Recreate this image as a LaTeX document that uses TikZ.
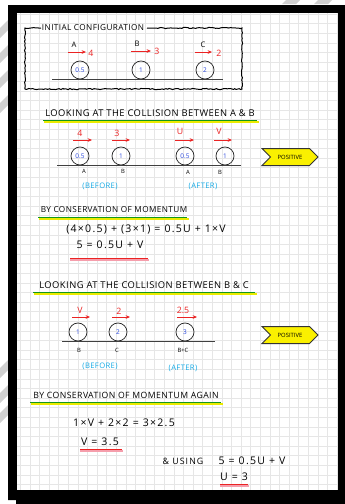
\documentclass[tikz,border=0pt]{standalone}
\usepackage{fontspec}
\setmainfont{Open Sans}
\newfontfamily\headfont[LetterSpace=5]{Open Sans}
\newfontfamily\eqnfont[LetterSpace=12]{Open Sans}
\usetikzlibrary{arrows.meta,positioning,shapes.symbols,decorations.pathmorphing,calc}
\definecolor{inkred}{RGB}{235,35,35}
\definecolor{inkblue}{RGB}{40,70,220}
\definecolor{inkcyan}{RGB}{20,170,230}
\definecolor{hlgreen}{RGB}{20,150,30}
\definecolor{hlyellow}{RGB}{235,235,0}
\definecolor{pinkred}{RGB}{235,60,90}
\definecolor{gridgray}{RGB}{230,230,230}
\definecolor{smudge}{RGB}{208,208,208}
\definecolor{posyellow}{RGB}{250,240,0}

\begin{document}
\begin{tikzpicture}[x=0.3mm,y=-0.3mm,
  ball/.style={circle, draw=black!85, line width=0.22mm, minimum size=5.4mm, inner sep=0pt, font=\fontsize{5.5}{6}\selectfont, text=inkblue},
  spd/.style={-{Stealth[length=1.3mm,width=1.1mm]}, inkred, line width=0.3mm},
  speed/.style={font=\fontsize{7.5}{8}\selectfont, text=inkred, inner sep=0pt},
  letter/.style={font=\fontsize{6.5}{7}\selectfont, inner sep=0pt},
  under/.style={font=\fontsize{5}{6}\selectfont, inner sep=0pt},
  stage/.style={font=\headfont\fontsize{6.5}{7}\selectfont, text=inkcyan, inner sep=0pt},
  heading/.style={font=\headfont\fontsize{8}{9}\selectfont, inner sep=0pt},
  eqn/.style={font=\eqnfont\fontsize{9}{10}\selectfont, inner sep=0pt},
  ground/.style={black!75, line width=0.25mm},
  posbox/.style={signal, signal from=west, signal to=east, draw=black!80, fill=posyellow, line width=0.3mm, minimum width=16.8mm, minimum height=5.1mm, inner sep=0pt, font=\fontsize{5}{6}\selectfont}]

  % Photo background, frame and grid paper
  \useasboundingbox (0,0) rectangle (345,504);
  \fill[white] (0,0) rectangle (345,504);
  \foreach \y in {20,45,70,95,360,385,405}
    \fill[smudge] (0,\y+8) -- (8,\y) -- (8,\y+10) -- (0,\y+18) -- cycle;
  \foreach \x in {282,314}
    \fill[smudge] (\x,4) -- (\x+4,0) -- (\x+18,0) -- (\x+14,4) -- cycle;
  \fill[black] (8,5) -- (345,5) -- (345,504) -- (16,504) -- (16,500) -- (8,500) -- cycle;
  \fill[white] (17,13) rectangle (338,490);
  \begin{scope}
    \clip (17,13) rectangle (338,490);
    \foreach \i in {0,...,33}
      \draw[gridgray, line width=0.12mm] (20.1+\i*9.6,13) -- (20.1+\i*9.6,490);
    \foreach \j in {0,...,49}
      \draw[gridgray, line width=0.12mm] (17,14+\j*9.6) -- (338,14+\j*9.6);
  \end{scope}

  % Initial configuration panel
  \pgfmathsetseed{11}
  \draw[black, line width=0.3mm, decorate, decoration={random steps, segment length=1.6pt, amplitude=0.5pt}]
    (41,28) -- (25,28) -- (25,89) -- (242,89) -- (242,28) -- (147,28);
  \node[font=\headfont\fontsize{7}{8}\selectfont, inner sep=0pt] (title) at (93,28) {INITIAL CONFIGURATION};

  \node[ball] (a1) at (80,70) {0.5};
  \node[ball] (b1) at (141,70) {1};
  \node[ball] (c1) at (205,70) {2};
  \draw[ground] (52,79) -- (223,79);

  \node[letter] (la1) at (74,45) {A};
  \node[letter] (lb1) at (137,44) {B};
  \node[letter] (lc1) at (203,45) {C};
  \draw[spd] ([shift={(-12,-18)}]a1.center) -- +(18,0);
  \draw[spd] ([shift={(-10,-19)}]b1.center) -- +(20,0);
  \draw[spd] ([shift={(-10,-18)}]c1.center) -- +(17,0);
  \node[speed] (va1) at (91,53) {4};
  \node[speed] (vb1) at (157,51) {3};
  \node[speed] (vc1) at (219,53) {2};

  % Collision between A and B
  \node[heading] (head1) at (150,113) {LOOKING AT THE COLLISION BETWEEN A \& B};
  \draw[hlyellow, line width=0.6mm] (44,122) -- (259,122);
  \draw[hlgreen, line width=0.55mm] (43,120.5) -- (257,120.5);

  \node[ball] (a2) at (80,156) {0.5};
  \node[ball] (b2) at (121,156) {1};
  \node[ball] (a3) at (185,156) {0.5};
  \node[ball] (b3) at (225,156) {1};
  \draw[ground] (57,165) -- (241,165);

  \draw[spd] ([shift={(-7,-16)}]a2.center) -- +(19,0);
  \draw[spd] ([shift={(-9,-16)}]b2.center) -- +(18,0);
  \draw[spd] ([shift={(-10,-16)}]a3.center) -- +(19,0);
  \draw[spd] ([shift={(-11,-16)}]b3.center) -- +(18,0);
  \node[speed] (va2) at (80,133) {4};
  \node[speed] (vb2) at (117,133) {3};
  \node[speed] (va3) at (180,131) {U};
  \node[speed] (vb3) at (219,131) {V};

  \node[under] (ua2) at (84,171) {A};
  \node[under] (ub2) at (123,171) {B};
  \node[under] (ua3) at (188,172) {A};
  \node[under] (ub3) at (220,172) {B};
  \node[stage] (before1) at (100,186) {(BEFORE)};
  \node[stage] (after1) at (203,186) {(AFTER)};
  \node[posbox] (pos1) at (290,157) {POSITIVE};

  % Conservation of momentum
  \node[heading, font=\headfont\fontsize{7}{8}\selectfont] (head2) at (114,210) {BY CONSERVATION OF MOMENTUM};
  \draw[hlyellow, line width=0.6mm] (39,219) -- (189,219);
  \draw[hlgreen, line width=0.55mm] (38,217.5) -- (187,217.5);
  \node[eqn] (eq1) at (146,230) {(4×0.5) + (3×1) = 0.5U + 1×V};
  \node[eqn] (eq2) at (110,245) {5 = 0.5U + V};
  \draw[pinkred!50, line width=0.45mm] (70,260) -- (149,260);
  \draw[inkred, line width=0.35mm] (70,258.5) -- (148,258.5);

  % Collision between B and C
  \node[heading] (head3) at (144,285) {LOOKING AT THE COLLISION BETWEEN B \& C};
  \draw[hlyellow, line width=0.6mm] (34,294) -- (257,294);
  \draw[hlgreen, line width=0.55mm] (33,292.5) -- (255,292.5);

  \node[ball] (b4) at (78,332) {1};
  \node[ball] (c4) at (118,332) {2};
  \node[ball] (bc4) at (185,332) {3};
  \draw[ground] (62,341) -- (215,341);

  \draw[spd] ([shift={(-6,-15)}]b4.center) -- +(18,0);
  \draw[spd] ([shift={(-6,-15)}]c4.center) -- +(18,0);
  \draw[spd] ([shift={(-8,-15)}]bc4.center) -- +(20,0);
  \node[speed] (vb4) at (80,310) {V};
  \node[speed] (vc4) at (119,311) {2};
  \node[speed] (vbc4) at (183,310) {2.5};

  \node[under] (ub4) at (79,350) {B};
  \node[under] (uc4) at (117,350) {C};
  \node[under] (ubc4) at (183,350) {B+C};
  \node[stage] (before2) at (100,366) {(BEFORE)};
  \node[stage] (after2) at (183,368) {(AFTER)};
  \node[posbox] (pos2) at (290,335) {POSITIVE};

  % Conservation of momentum again
  \node[heading, font=\headfont\fontsize{7.4}{8}\selectfont] (head4) at (126,395) {BY CONSERVATION OF MOMENTUM AGAIN};
  \draw[hlyellow, line width=0.6mm] (31,404) -- (223,404);
  \draw[hlgreen, line width=0.55mm] (30,402.5) -- (221,402.5);
  \node[eqn] (eq3) at (124,423) {1×V + 2×2 = 3×2.5};
  \node[eqn] (eq4) at (100,442) {V = 3.5};
  \draw[pinkred!50, line width=0.45mm] (80,451) -- (123,451);
  \draw[inkred, line width=0.35mm] (80,449.5) -- (122,449.5);
  \node[eqn, font=\eqnfont\fontsize{7.5}{8}\selectfont] (using) at (183,461) {\& USING};
  \node[eqn] (eq5) at (252,461) {5 = 0.5U + V};
  \node[eqn] (eq6) at (234,477) {U = 3};
  \draw[pinkred!50, line width=0.45mm] (220,486) -- (249,486);
  \draw[inkred, line width=0.35mm] (220,484.5) -- (248,484.5);
\end{tikzpicture}
\end{document}
